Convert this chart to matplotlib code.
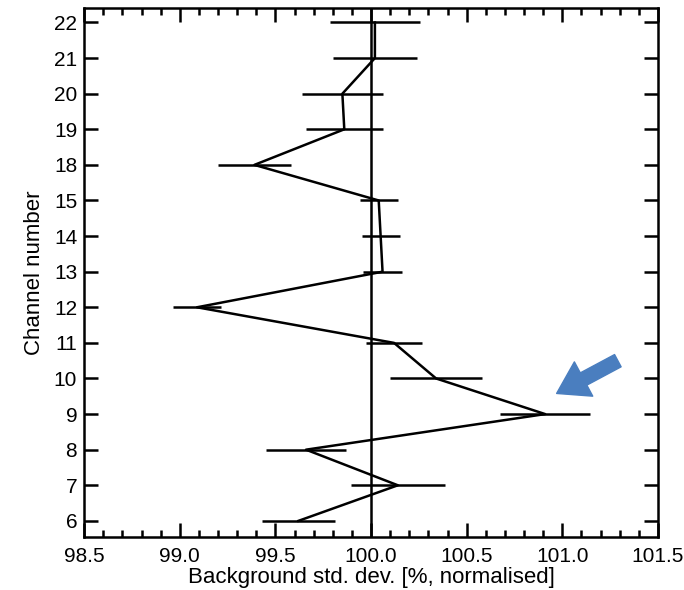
import numpy as np
import matplotlib.pyplot as plt

# channels, bottom to top (equally spaced on the y axis)
channels = ['6', '7', '8', '9', '10', '11', '12', '13', '14', '15', '18', '19', '20', '21', '22']
# normalised background std. dev. [%]
std_dev = [99.62, 100.14, 99.66, 100.91, 100.34, 100.12, 99.09, 100.06, 100.05, 100.04,
           99.39, 99.86, 99.85, 100.02, 100.02]
# half width of the error bars
err = [0.19, 0.245, 0.21, 0.235, 0.24, 0.145, 0.125, 0.10, 0.10, 0.10,
       0.19, 0.20, 0.21, 0.22, 0.235]

plt.rcParams['font.family'] = ['Liberation Sans', 'DejaVu Sans']

fig = plt.figure(figsize=(6.84, 5.90), dpi=100)
ax = fig.add_axes([0.123, 0.09, 0.839, 0.896])

ypos = np.arange(len(channels))

ax.axvline(100.0, color='black', lw=1.8)
ax.plot(std_dev, ypos, color='black', lw=1.8)
ax.errorbar(std_dev, ypos, xerr=err, fmt='none', ecolor='black', elinewidth=1.8, capsize=0)

# arrow pointing to channel 9
ax.annotate('', xy=(100.97, 3.58), xytext=(101.29, 4.5),
            arrowprops=dict(facecolor='#4a7ebf', edgecolor='#4a7ebf',
                            width=10, headwidth=28, headlength=22))

ax.set_xlim(98.5, 101.5)
ax.set_ylim(-0.45, 14.4)
ax.set_xticks(np.arange(98.5, 101.51, 0.5))
ax.set_xticklabels([f'{v:.1f}' for v in np.arange(98.5, 101.51, 0.5)])
ax.set_xticks(np.arange(98.5, 101.51, 0.1), minor=True)
ax.set_yticks(ypos)
ax.set_yticklabels(channels)

ax.tick_params(axis='both', which='major', direction='in', length=10, width=1.8,
               top=True, right=True, labelsize=15, colors='black')
ax.tick_params(axis='y', which='major', pad=5)
ax.tick_params(axis='x', which='major', pad=7)
ax.tick_params(axis='x', which='minor', direction='in', length=5, width=1.8, top=True)
for s in ax.spines.values():
    s.set_linewidth(1.8)

ax.set_xlabel('Background std. dev. [%, normalised]', fontsize=16, labelpad=1)
ax.set_ylabel('Channel number', fontsize=16, labelpad=6)

fig.savefig('out.png', dpi=100)
